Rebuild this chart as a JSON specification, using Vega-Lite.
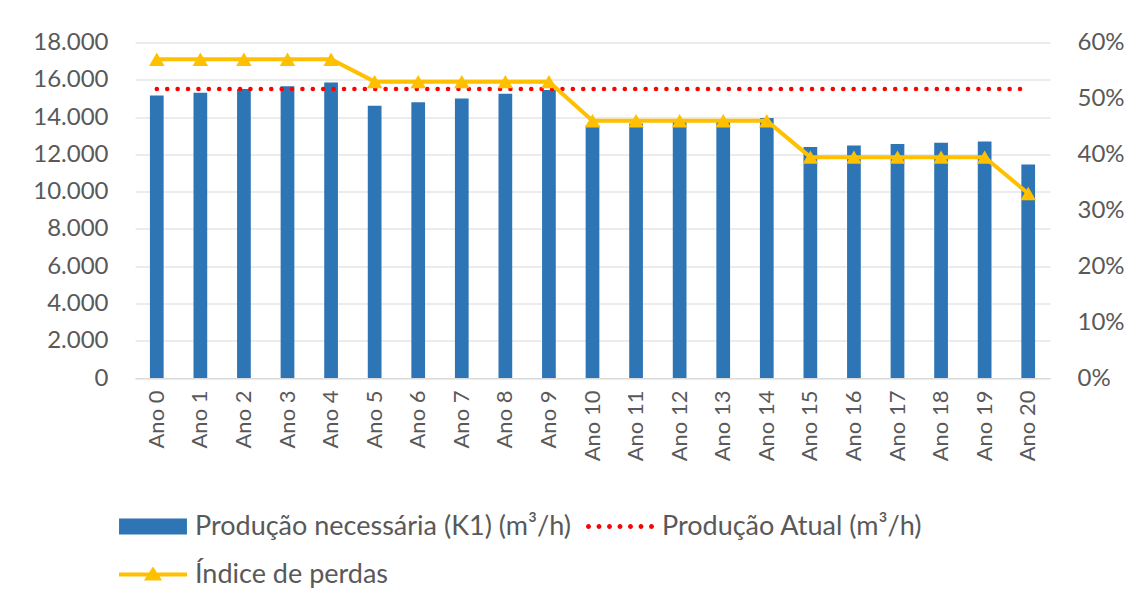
{
  "$schema": "https://vega.github.io/schema/vega-lite/v6.json",
  "width": 915,
  "height": 335.5,
  "autosize": {"type": "none"},
  "padding": {"left": 135, "top": 42.5, "right": 84, "bottom": 227},
  "background": "white",
  "config": {
    "font": "Lato",
    "view": {"stroke": null},
    "axis": {"labelFont": "Lato", "labelFontSize": 24, "labelColor": "#595959", "ticks": false, "title": null, "labelOverlap": false, "labelFlush": false, "labelBound": false},
    "legend": {"labelFont": "Lato", "labelFontSize": 27, "labelColor": "#595959", "labelLimit": 0}
  },
  "data": {
    "values": [
      {"ano": "Ano 0", "serie": "Produção necessária (K1) (m³/h)", "valor": 15150},
      {"ano": "Ano 1", "serie": "Produção necessária (K1) (m³/h)", "valor": 15300},
      {"ano": "Ano 2", "serie": "Produção necessária (K1) (m³/h)", "valor": 15500},
      {"ano": "Ano 3", "serie": "Produção necessária (K1) (m³/h)", "valor": 15650},
      {"ano": "Ano 4", "serie": "Produção necessária (K1) (m³/h)", "valor": 15850},
      {"ano": "Ano 5", "serie": "Produção necessária (K1) (m³/h)", "valor": 14600},
      {"ano": "Ano 6", "serie": "Produção necessária (K1) (m³/h)", "valor": 14800},
      {"ano": "Ano 7", "serie": "Produção necessária (K1) (m³/h)", "valor": 15000},
      {"ano": "Ano 8", "serie": "Produção necessária (K1) (m³/h)", "valor": 15250},
      {"ano": "Ano 9", "serie": "Produção necessária (K1) (m³/h)", "valor": 15450},
      {"ano": "Ano 10", "serie": "Produção necessária (K1) (m³/h)", "valor": 13550},
      {"ano": "Ano 11", "serie": "Produção necessária (K1) (m³/h)", "valor": 13650},
      {"ano": "Ano 12", "serie": "Produção necessária (K1) (m³/h)", "valor": 13750},
      {"ano": "Ano 13", "serie": "Produção necessária (K1) (m³/h)", "valor": 13850},
      {"ano": "Ano 14", "serie": "Produção necessária (K1) (m³/h)", "valor": 13950},
      {"ano": "Ano 15", "serie": "Produção necessária (K1) (m³/h)", "valor": 12400},
      {"ano": "Ano 16", "serie": "Produção necessária (K1) (m³/h)", "valor": 12480},
      {"ano": "Ano 17", "serie": "Produção necessária (K1) (m³/h)", "valor": 12550},
      {"ano": "Ano 18", "serie": "Produção necessária (K1) (m³/h)", "valor": 12620},
      {"ano": "Ano 19", "serie": "Produção necessária (K1) (m³/h)", "valor": 12690},
      {"ano": "Ano 20", "serie": "Produção necessária (K1) (m³/h)", "valor": 11450},
      {"ano": "Ano 0", "serie": "Produção Atual (m³/h)", "valor": 15500},
      {"ano": "Ano 1", "serie": "Produção Atual (m³/h)", "valor": 15500},
      {"ano": "Ano 2", "serie": "Produção Atual (m³/h)", "valor": 15500},
      {"ano": "Ano 3", "serie": "Produção Atual (m³/h)", "valor": 15500},
      {"ano": "Ano 4", "serie": "Produção Atual (m³/h)", "valor": 15500},
      {"ano": "Ano 5", "serie": "Produção Atual (m³/h)", "valor": 15500},
      {"ano": "Ano 6", "serie": "Produção Atual (m³/h)", "valor": 15500},
      {"ano": "Ano 7", "serie": "Produção Atual (m³/h)", "valor": 15500},
      {"ano": "Ano 8", "serie": "Produção Atual (m³/h)", "valor": 15500},
      {"ano": "Ano 9", "serie": "Produção Atual (m³/h)", "valor": 15500},
      {"ano": "Ano 10", "serie": "Produção Atual (m³/h)", "valor": 15500},
      {"ano": "Ano 11", "serie": "Produção Atual (m³/h)", "valor": 15500},
      {"ano": "Ano 12", "serie": "Produção Atual (m³/h)", "valor": 15500},
      {"ano": "Ano 13", "serie": "Produção Atual (m³/h)", "valor": 15500},
      {"ano": "Ano 14", "serie": "Produção Atual (m³/h)", "valor": 15500},
      {"ano": "Ano 15", "serie": "Produção Atual (m³/h)", "valor": 15500},
      {"ano": "Ano 16", "serie": "Produção Atual (m³/h)", "valor": 15500},
      {"ano": "Ano 17", "serie": "Produção Atual (m³/h)", "valor": 15500},
      {"ano": "Ano 18", "serie": "Produção Atual (m³/h)", "valor": 15500},
      {"ano": "Ano 19", "serie": "Produção Atual (m³/h)", "valor": 15500},
      {"ano": "Ano 20", "serie": "Produção Atual (m³/h)", "valor": 15500},
      {"ano": "Ano 0", "serie": "Índice de perdas", "valor": 0.57},
      {"ano": "Ano 1", "serie": "Índice de perdas", "valor": 0.57},
      {"ano": "Ano 2", "serie": "Índice de perdas", "valor": 0.57},
      {"ano": "Ano 3", "serie": "Índice de perdas", "valor": 0.57},
      {"ano": "Ano 4", "serie": "Índice de perdas", "valor": 0.57},
      {"ano": "Ano 5", "serie": "Índice de perdas", "valor": 0.53},
      {"ano": "Ano 6", "serie": "Índice de perdas", "valor": 0.53},
      {"ano": "Ano 7", "serie": "Índice de perdas", "valor": 0.53},
      {"ano": "Ano 8", "serie": "Índice de perdas", "valor": 0.53},
      {"ano": "Ano 9", "serie": "Índice de perdas", "valor": 0.53},
      {"ano": "Ano 10", "serie": "Índice de perdas", "valor": 0.46},
      {"ano": "Ano 11", "serie": "Índice de perdas", "valor": 0.46},
      {"ano": "Ano 12", "serie": "Índice de perdas", "valor": 0.46},
      {"ano": "Ano 13", "serie": "Índice de perdas", "valor": 0.46},
      {"ano": "Ano 14", "serie": "Índice de perdas", "valor": 0.46},
      {"ano": "Ano 15", "serie": "Índice de perdas", "valor": 0.395},
      {"ano": "Ano 16", "serie": "Índice de perdas", "valor": 0.395},
      {"ano": "Ano 17", "serie": "Índice de perdas", "valor": 0.395},
      {"ano": "Ano 18", "serie": "Índice de perdas", "valor": 0.395},
      {"ano": "Ano 19", "serie": "Índice de perdas", "valor": 0.395},
      {"ano": "Ano 20", "serie": "Índice de perdas", "valor": 0.33}
    ]
  },
  "encoding": {
    "x": {
      "field": "ano",
      "type": "ordinal",
      "scale": {
        "domain": ["Ano 0", "Ano 1", "Ano 2", "Ano 3", "Ano 4", "Ano 5", "Ano 6", "Ano 7", "Ano 8", "Ano 9", "Ano 10", "Ano 11", "Ano 12", "Ano 13", "Ano 14", "Ano 15", "Ano 16", "Ano 17", "Ano 18", "Ano 19", "Ano 20"],
        "paddingInner": 0.685,
        "paddingOuter": 0.3425
      },
      "axis": {"labelAngle": -90, "labelPadding": 12, "labelFontSize": 22, "domainColor": "#D9D9D9", "domainWidth": 1, "grid": false}
    }
  },
  "layer": [
    {
      "encoding": {
        "y": {
          "field": "valor",
          "type": "quantitative",
          "scale": {"domain": [0, 18000], "nice": false},
          "axis": {
            "values": [0, 2000, 4000, 6000, 8000, 10000, 12000, 14000, 16000, 18000],
            "labelExpr": "replace(format(datum.value, ',.0f'), ',', '.')",
            "labelOverlap": false,
            "grid": true,
            "gridColor": "#D9D9D9",
            "domain": false,
            "labelPadding": 27
          }
        }
      },
      "layer": [
        {
          "transform": [{"filter": {"field": "serie", "equal": "Produção necessária (K1) (m³/h)"}}],
          "mark": {"type": "bar", "color": "#2E75B6"}
        },
        {
          "transform": [{"filter": {"field": "serie", "equal": "Produção Atual (m³/h)"}}],
          "mark": {"type": "line", "color": "#FF0000", "strokeWidth": 4.5, "strokeDash": [0.1, 10.3], "strokeCap": "round"}
        },
        {
          "transform": [{"filter": "datum.valor < 0"}],
          "mark": {"type": "point", "filled": true, "opacity": 1, "strokeWidth": 0},
          "encoding": {
            "color": {
              "field": "serie",
              "type": "nominal",
              "scale": {
                "domain": ["Produção necessária (K1) (m³/h)", "Produção Atual (m³/h)", "Índice de perdas"],
                "range": ["#2E75B6", "#FF0000", "#FFC000"]
              },
              "legend": {
                "orient": "none",
                "legendX": -17,
                "legendY": 449,
                "direction": "horizontal",
                "columns": 2,
                "title": null,
                "symbolSize": 4900,
                "symbolStrokeWidth": 0,
                "labelOffset": 7,
                "columnPadding": 13,
                "rowPadding": -20,
                "padding": 0,
                "labelLimit": 0
              }
            },
            "shape": {
              "field": "serie",
              "type": "nominal",
              "scale": {
                "domain": ["Produção necessária (K1) (m³/h)", "Produção Atual (m³/h)", "Índice de perdas"],
                "range": [
                  "M-0.97,-0.23H0.97V0.23H-0.97Z",
                  "M-0.97,0a0.07,0.07 0 1,0 0.14,0a0.07,0.07 0 1,0 -0.14,0ZM-0.67,0a0.07,0.07 0 1,0 0.14,0a0.07,0.07 0 1,0 -0.14,0ZM-0.37,0a0.07,0.07 0 1,0 0.14,0a0.07,0.07 0 1,0 -0.14,0ZM-0.07,0a0.07,0.07 0 1,0 0.14,0a0.07,0.07 0 1,0 -0.14,0ZM0.23,0a0.07,0.07 0 1,0 0.14,0a0.07,0.07 0 1,0 -0.14,0ZM0.53,0a0.07,0.07 0 1,0 0.14,0a0.07,0.07 0 1,0 -0.14,0ZM0.83,0a0.07,0.07 0 1,0 0.14,0a0.07,0.07 0 1,0 -0.14,0Z",
                  "M-0.97,-0.055H0.97V0.055H-0.97ZM-0.26,0.17L0,-0.23L0.26,0.17Z"
                ]
              },
              "legend": {
                "orient": "none",
                "legendX": -17,
                "legendY": 449,
                "direction": "horizontal",
                "columns": 2,
                "title": null,
                "symbolSize": 4900,
                "symbolStrokeWidth": 0,
                "labelOffset": 7,
                "columnPadding": 13,
                "rowPadding": -20,
                "padding": 0,
                "labelLimit": 0
              }
            }
          }
        }
      ]
    },
    {
      "transform": [{"filter": {"field": "serie", "equal": "Índice de perdas"}}],
      "layer": [
        {
          "mark": {"type": "line", "color": "#FFC000", "strokeWidth": 4}
        },
        {
          "mark": {"type": "point", "shape": "triangle-up", "filled": true, "size": 240, "color": "#FFC000", "opacity": 1, "strokeWidth": 0}
        }
      ],
      "encoding": {
        "y": {
          "field": "valor",
          "type": "quantitative",
          "scale": {"domain": [0, 0.6], "nice": false},
          "axis": {
            "orient": "right",
            "values": [0, 0.1, 0.2, 0.3, 0.4, 0.5, 0.6],
            "format": ".0%",
            "grid": false,
            "domain": false,
            "labelPadding": 27
          }
        }
      }
    }
  ],
  "resolve": {"scale": {"y": "independent"}}
}
